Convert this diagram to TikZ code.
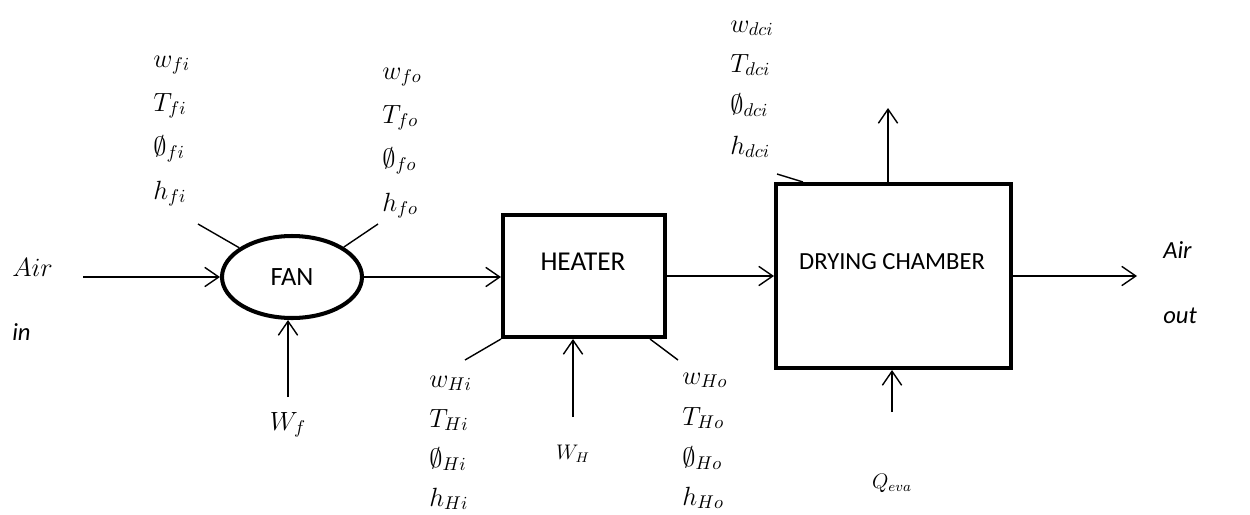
\RequirePackage{fix-cm}
\documentclass[tikz,border=0pt]{standalone}
\usepackage{fontspec}
\newfontfamily\boxfont{Carlito}
\usetikzlibrary{arrows.meta,shapes.geometric,calc}
\begin{document}
\begin{tikzpicture}[x=0.02cm,y=-0.02cm,
  flow/.style={line width=0.8pt,-{Straight Barb[length=8pt,width=11pt,line width=0.8pt]}},
  tick/.style={line width=0.8pt},
  unit/.style={draw,line width=2.3pt,inner sep=0pt,font=\boxfont\fontsize{15}{17}\selectfont},
  var/.style={anchor=base west,inner sep=0pt,font=\fontsize{15}{17}\selectfont},
  small/.style={anchor=base,inner sep=0pt,font=\fontsize{12}{14}\selectfont},
  io/.style={anchor=base west,inner sep=0pt,font=\boxfont\itshape\fontsize{14}{16}\selectfont}
]
\useasboundingbox (0,0) rectangle (1250,514);

% units
\node[unit,ellipse,minimum width=2.8cm,minimum height=1.64cm] (fan) at (292,277) {FAN};
\node[unit,rectangle,minimum width=3.24cm,minimum height=2.44cm] (heater) at (584,276) {};
\node[inner sep=0pt,font=\boxfont\fontsize{15.5}{17}\selectfont] (heatertxt) at (583,262) {HEATER};
\node[unit,rectangle,minimum width=4.7cm,minimum height=3.68cm] (chamber) at (893.5,276) {};
\node[inner sep=0pt,font=\boxfont\fontsize{14}{16}\selectfont] (chambertxt) at (892,262) {DRYING CHAMBER};

% air in / out labels
\node[var] (airinA) at (12,276) {$Air$};
\node[io] (airinB) at (12,340) {in};
\node[io] (airoutA) at (1163,258) {Air};
\node[io] (airoutB) at (1163,323) {out};

% free ends
\coordinate (airin) at (83,277);
\coordinate (airout) at (1137,276);
\coordinate (wf) at (288,397);
\coordinate (wh) at (573,417);
\coordinate (qeva) at (892,412);
\coordinate (top) at (888,108);
\coordinate (fit) at (198,224);
\coordinate (fot) at (378,224);
\coordinate (hit) at (465,360);
\coordinate (hot) at (678,360);
\coordinate (dcit) at (777,174);

% main flow
\draw[flow] (airin) -- (fan.west);
\draw[flow] (fan.east) -- (fan.east -| heater.west);
\draw[flow] (heater.east) -- (heater.east -| chamber.west);
\draw[flow] (chamber.east) -- (airout);
\draw[flow] (chamber.north -| top) -- (top);

% inputs from below
\draw[flow] (wf) -- (wf |- fan.south);
\draw[flow] (wh) -- (wh |- heater.south);
\draw[flow] (qeva) -- (qeva |- chamber.south);

% state ticks
\draw[tick] (fit) -- (fan.151);
\draw[tick] (fot) -- (fan.30);
\draw[tick] (hit) -- (heater.south west);
\draw[tick] (hot) -- ($(heater.south east)+(-17,0)$);
\draw[tick] (dcit) -- ($(chamber.north west)+(29,0)$);

% fan inlet state
\node[var] (fi1) at (153,67) {$w_{fi}$};
\node[var] (fi2) at (153,111) {$T_{fi}$};
\node[var] (fi3) at (153,155) {$\emptyset_{fi}$};
\node[var] (fi4) at (153,199) {$h_{fi}$};
% fan outlet state
\node[var] (fo1) at (382,79) {$w_{fo}$};
\node[var] (fo2) at (382,123) {$T_{fo}$};
\node[var] (fo3) at (382,167) {$\emptyset_{fo}$};
\node[var] (fo4) at (382,211) {$h_{fo}$};
% heater inlet state
\node[var] (hi1) at (429,387) {$w_{Hi}$};
\node[var] (hi2) at (429,427) {$T_{Hi}$};
\node[var] (hi3) at (429,467) {$\emptyset_{Hi}$};
\node[var] (hi4) at (429,506) {$h_{Hi}$};
% heater outlet state
\node[var] (ho1) at (682,384) {$w_{Ho}$};
\node[var] (ho2) at (682,425) {$T_{Ho}$};
\node[var] (ho3) at (682,466) {$\emptyset_{Ho}$};
\node[var] (ho4) at (682,505) {$h_{Ho}$};
% drying chamber inlet state
\node[var] (dc1) at (730,32) {$w_{dci}$};
\node[var] (dc2) at (730,72) {$T_{dci}$};
\node[var] (dc3) at (730,113) {$\emptyset_{dci}$};
\node[var] (dc4) at (730,154) {$h_{dci}$};

% work / heat labels
\node[small,font=\fontsize{15}{17}\selectfont] (wflab) at (288,430) {$W_f$};
\node[small] (whlab) at (573,459) {$W_H$};
\node[small] (qlab) at (892,488) {$Q_{eva}$};
\end{tikzpicture}
\end{document}
